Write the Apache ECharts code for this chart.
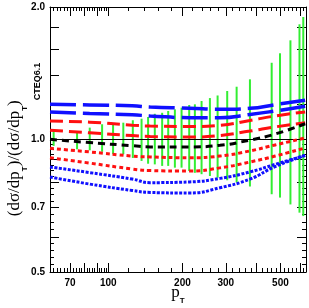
<!DOCTYPE html>
<html><head><meta charset="utf-8">
<script src="https://cdn.jsdelivr.net/npm/echarts@6/dist/echarts.min.js"></script>
<style>html,body{margin:0;padding:0;background:#fff}#c{width:309px;height:308px}</style>
</head><body><div id="c"></div>
<script>
// x grid of theory curves (p_T)
const pT = [58, 84, 125, 148, 214, 284, 376, 476, 630];
const blueLong1 = [1.202, 1.198, 1.193, 1.185, 1.178, 1.171, 1.177, 1.200, 1.228];
const blueLong2 = [1.155, 1.146, 1.138, 1.131, 1.121, 1.121, 1.140, 1.161, 1.190];
const redDash1  = [1.101, 1.095, 1.078, 1.073, 1.070, 1.077, 1.105, 1.131, 1.155];
const redDash2  = [1.049, 1.036, 1.021, 1.016, 1.013, 1.021, 1.045, 1.068, 1.092];
const blackDash = [1.001, 0.984, 0.968, 0.962, 0.962, 0.970, 0.997, 1.029, 1.086];
const redDot1   = [0.955, 0.937, 0.917, 0.913, 0.909, 0.917, 0.942, 0.972, 1.008];
const redDot2   = [0.909, 0.884, 0.857, 0.850, 0.848, 0.862, 0.889, 0.917, 0.957];
const blueDot1  = [0.866, 0.841, 0.813, 0.798, 0.801, 0.816, 0.844, 0.878, 0.920];
const blueDot2  = [0.822, 0.792, 0.766, 0.758, 0.756, 0.777, 0.813, 0.868, 0.920];

// data error bars
const barPT = [60, 74.7, 84.1, 94.4, 104.6, 115.1, 125.8, 136.5, 145.1, 154.5, 165.5, 175.1, 186.4, 198.4, 213.1, 224.7, 239.2, 258.6, 277.9, 304, 332, 376, 460.7, 498, 549, 597.5, 619];
const barLo = [0.967, 0.950, 0.945, 0.938, 0.926, 0.926, 0.908, 0.894, 0.881, 0.878, 0.871, 0.871, 0.863, 0.863, 0.848, 0.840, 0.834, 0.826, 0.819, 0.808, 0.799, 0.782, 0.751, 0.738, 0.712, 0.682, 0.670];
const barHi = [1.045, 1.045, 1.064, 1.083, 1.083, 1.092, 1.106, 1.115, 1.125, 1.144, 1.150, 1.161, 1.171, 1.181, 1.198, 1.202, 1.223, 1.242, 1.259, 1.289, 1.318, 1.370, 1.494, 1.570, 1.680, 1.827, 1.898];

// ticks
const xLabelVals = [70, 100, 200, 300, 500];
const xMajorTicks = [70, 80, 90, 100, 200, 300, 400, 500, 600];
const xMinorTicks = [60, 62, 64, 66, 68, 72, 74, 76, 78, 82, 84, 86, 88, 92, 94, 96, 98, 120, 140, 160, 180, 220, 240, 260, 280, 320, 340, 360, 380, 420, 440, 460, 480, 520, 540, 560, 580, 620];
const yLabelVals = [0.5, 0.7, 1.0, 2.0];
const yMajorTicks = [0.5, 0.6, 0.7, 0.8, 0.9, 1.0, 1.2, 1.4, 1.6, 1.8, 2.0];
const yMinorTicks = [0.52, 0.54, 0.56, 0.58, 0.625, 0.65, 0.675, 0.725, 0.75, 0.775, 0.825, 0.85, 0.875, 0.925, 0.95, 0.975];

const X_MIN = 58, X_MAX = 635, Y_MIN = 0.5, Y_MAX = 2.0;

const chart = echarts.init(document.getElementById('c'), null, {renderer: 'canvas'});

function xAx(pos, ticks, len, withLabels, showLine) {
  return {
    type: 'log', min: X_MIN, max: X_MAX, position: pos, gridIndex: 0, nameMoveOverlap: false,
    axisLine: {show: showLine, onZero: false, lineStyle: {color: '#000', width: 1}},
    axisTick: {show: true, inside: true, length: len, customValues: ticks, lineStyle: {color: '#000', width: 1}},
    axisLabel: withLabels ? {show: true, customValues: xLabelVals, color: '#000', fontSize: 10, fontWeight: 'bold', fontFamily: 'Liberation Sans, Arial', margin: 6, formatter: v => String(Math.round(v))} : {show: false},
    splitLine: {show: false}, minorTick: {show: false}
  };
}
function yAx(pos, ticks, len, withLabels, showLine) {
  return {
    type: 'log', min: Y_MIN, max: Y_MAX, position: pos, gridIndex: 0, nameMoveOverlap: false,
    axisLine: {show: showLine, onZero: false, lineStyle: {color: '#000', width: 1}},
    axisTick: {show: true, inside: true, length: len, customValues: ticks, lineStyle: {color: '#000', width: 1}},
    axisLabel: withLabels ? {show: true, customValues: yLabelVals, color: '#000', fontSize: 10, fontWeight: 'bold', fontFamily: 'Liberation Sans, Arial', margin: 5, formatter: v => Number(v).toFixed(1)} : {show: false},
    splitLine: {show: false}, minorTick: {show: false}
  };
}

const xAxes = [xAx('bottom', xMajorTicks, 9, true, true), xAx('bottom', xMinorTicks, 4, false, false), xAx('top', xMajorTicks, 9, false, true), xAx('top', xMinorTicks, 4, false, false)];
xAxes[0].name = '{p|p}{t|T}';
xAxes[0].nameLocation = 'middle';
xAxes[0].nameGap = 12;
xAxes[0].nameTextStyle = {rich: {
  p: {fontFamily: 'Liberation Serif, Times New Roman', fontSize: 17, color: '#000', lineHeight: 17, verticalAlign: 'top'},
  t: {fontFamily: 'Liberation Sans, Arial', fontWeight: 'bold', fontSize: 8, color: '#000', lineHeight: 8, verticalAlign: 'top', padding: [13, 0, 0, 0]}
}};
const yAxes = [yAx('left', yMajorTicks, 9, true, true), yAx('left', yMinorTicks, 4, false, false), yAx('right', yMajorTicks, 9, false, true), yAx('right', yMinorTicks, 4, false, false)];
yAxes[0].name = '{a|(dσ/dp}{t|T}{a|)/(dσ/dp}{t|T}{a|)}{c|CTEQ6.1}';
yAxes[0].nameLocation = 'middle';
yAxes[0].nameRotate = 90;
yAxes[0].nameGap = 27;
yAxes[0].nameTextStyle = {rich: {
  a: {fontFamily: 'Liberation Serif, Times New Roman', fontSize: 17, color: '#000', lineHeight: 17, verticalAlign: 'top'},
  t: {fontFamily: 'Liberation Sans, Arial', fontWeight: 'bold', fontSize: 8, color: '#000', lineHeight: 8, verticalAlign: 'top', padding: [15, 0, 0, 0]},
  c: {fontFamily: 'Liberation Sans, Arial', fontWeight: 'bold', fontSize: 9, color: '#000', lineHeight: 9, verticalAlign: 'top', padding: [27, 0, 0, 0]}
}};

function curve(arr, color, dash, width) {
  return {
    type: 'line', xAxisIndex: 0, yAxisIndex: 0, smooth: true, showSymbol: false, symbol: 'none', z: 5,
    data: pT.map((x, i) => [x, arr[i]]),
    lineStyle: {color: color, width: width, type: dash, cap: 'butt'}, silent: true
  };
}

const option = {
  animation: false,
  grid: {left: 50, right: 3, top: 7, bottom: 36, containLabel: false, outerBoundsMode: 'none'},
  xAxis: xAxes,
  yAxis: yAxes,
  series: [
    {
      type: 'custom', xAxisIndex: 0, yAxisIndex: 0, z: 2, silent: true,
      data: barPT.map((x, i) => [x, barLo[i], barHi[i]]),
      encode: {x: 0, y: [1, 2]},
      renderItem: function (params, api) {
        const p1 = api.coord([api.value(0), api.value(1)]);
        const p2 = api.coord([api.value(0), api.value(2)]);
        return {type: 'line', shape: {x1: p1[0], y1: p1[1], x2: p2[0], y2: p2[1]}, style: {stroke: '#33ee33', lineWidth: 2}};
      },
      markLine: {silent: true, symbol: 'none', label: {show: false}, lineStyle: {color: '#000', width: 1, type: 'solid'}, data: [{yAxis: 1.0}]}
    },
    curve(blueLong1, '#1010ff', [26, 7], 3.5),
    curve(blueLong2, '#1010ff', [26, 7], 3.5),
    curve(redDash1, '#ff1010', [13, 6], 3),
    curve(redDash2, '#ff1010', [13, 6], 3),
    curve(blackDash, '#000000', [7, 5], 3),
    curve(redDot1, '#ff1010', [4, 3], 3),
    curve(redDot2, '#ff1010', [4, 3], 3),
    curve(blueDot1, '#1010ff', [3, 1.5], 3),
    curve(blueDot2, '#1010ff', [3, 1.5], 3)
  ]
};
chart.setOption(option);
</script></body></html>
